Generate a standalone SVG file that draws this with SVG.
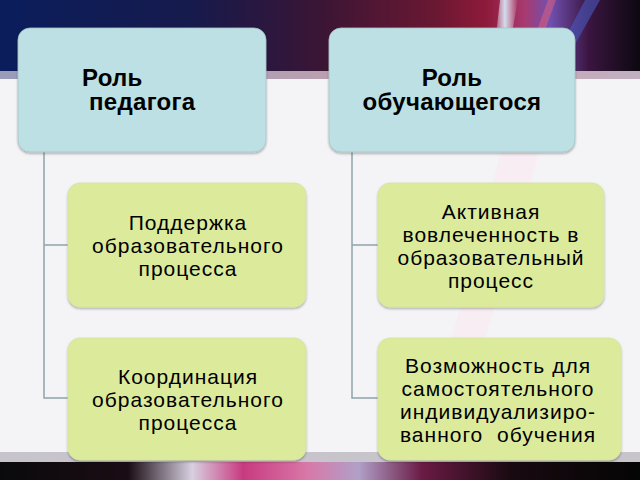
<svg xmlns="http://www.w3.org/2000/svg" width="640" height="480" viewBox="0 0 640 480">
  <defs>
    <linearGradient id="topBand" x1="0" y1="0" x2="1" y2="0">
      <stop offset="0" stop-color="#0a1d5c"/>
      <stop offset="0.3" stop-color="#161a4c"/>
      <stop offset="0.5" stop-color="#3a1535"/>
      <stop offset="0.68" stop-color="#6a1832"/>
      <stop offset="0.76" stop-color="#8e1a3a"/>
      <stop offset="0.82" stop-color="#a83a70"/>
      <stop offset="0.86" stop-color="#7050b0"/>
      <stop offset="0.92" stop-color="#3a1540"/>
      <stop offset="1" stop-color="#0c0810"/>
    </linearGradient>
    <linearGradient id="strip" x1="0" y1="0" x2="1" y2="0">
      <stop offset="0" stop-color="#9a9cb8"/>
      <stop offset="0.5" stop-color="#b8a0b0"/>
      <stop offset="0.8" stop-color="#c8a8b8"/>
      <stop offset="1" stop-color="#c0b0c0"/>
    </linearGradient>
    <linearGradient id="bottomBand" x1="0" y1="0" x2="1" y2="0">
      <stop offset="0" stop-color="#0a0a0c"/>
      <stop offset="0.2" stop-color="#1a0c14"/>
      <stop offset="0.3" stop-color="#d8d0e0"/>
      <stop offset="0.38" stop-color="#c83a80"/>
      <stop offset="0.48" stop-color="#d878a8"/>
      <stop offset="0.56" stop-color="#b0a0c8"/>
      <stop offset="0.66" stop-color="#6a1a44"/>
      <stop offset="0.8" stop-color="#180a10"/>
      <stop offset="1" stop-color="#050505"/>
    </linearGradient>
    <linearGradient id="streak" x1="0" y1="0" x2="1" y2="0">
      <stop offset="0" stop-color="#ffffff" stop-opacity="0"/>
      <stop offset="0.5" stop-color="#d8f0ff" stop-opacity="0.9"/>
      <stop offset="1" stop-color="#ffffff" stop-opacity="0"/>
    </linearGradient>
    <filter id="shadow" x="-10%" y="-10%" width="120%" height="130%">
      <feDropShadow dx="0" dy="1.5" stdDeviation="1.2" flood-color="#000" flood-opacity="0.3"/>
    </filter>
  </defs>
  <style>
    .top { fill: #bce0e3; stroke: #a8c4c8; stroke-width: 0.8; filter: url(#shadow); }
    .leaf { fill: #dcea9c; stroke: #d4e4a0; stroke-width: 0.8; filter: url(#shadow); }
    .head { font-family: "Liberation Sans", Arial, sans-serif; font-weight: bold; font-size: 24px; letter-spacing: 0.3px; fill: #000; }
    .body { font-family: "Liberation Sans", Arial, sans-serif; font-size: 21px; fill: #000; letter-spacing: 1px; text-anchor: middle; }
    .conn { fill: none; stroke: #8ea4ac; stroke-width: 1.5; }
  </style>

  <!-- background -->
  <rect x="0" y="0" width="640" height="480" fill="#f4f3f6"/>
  <rect x="0" y="0" width="640" height="71" fill="url(#topBand)"/>
  <polygon points="500,0 518,0 505,71 492,71" fill="url(#streak)"/>
  <polygon points="548,0 556,0 530,71 522,71" fill="#e8607a" opacity="0.5"/>
  <polygon points="585,0 600,0 560,71 548,71" fill="#4a58c0" opacity="0.6"/>
  <rect x="0" y="71" width="640" height="8" fill="url(#strip)"/>
  <polygon points="520,80 560,80 450,460 420,460" fill="#fbe8ee" opacity="0.5"/>
  <rect x="0" y="452" width="640" height="10" fill="#c8c4cc"/>
  <rect x="0" y="462" width="640" height="18" fill="url(#bottomBand)"/>

  <!-- connectors -->
  <g id="connectors">
    <path class="conn" d="M44,152 V398 H69 M44,245 H69"/>
    <path class="conn" d="M352,152 V398 H378 M352,245 H378"/>
  </g>

  <g id="role-teacher">
    <rect class="top" x="18" y="28" width="248" height="124" rx="12"/>
    <text class="head" x="82" y="86">Роль</text>
    <text class="head" x="89" y="110">педагога</text>
  </g>

  <g id="role-student">
    <rect class="top" x="329" y="28" width="246" height="124" rx="12"/>
    <text class="head" x="452" y="86" text-anchor="middle">Роль</text>
    <text class="head" x="452" y="110" text-anchor="middle">обучающегося</text>
  </g>

  <g id="support">
    <rect class="leaf" x="68" y="183" width="238" height="124" rx="12"/>
    <text class="body" x="188" y="230">Поддержка</text>
    <text class="body" x="188" y="253">образовательного</text>
    <text class="body" x="188" y="276">процесса</text>
  </g>

  <g id="coordination">
    <rect class="leaf" x="68" y="338" width="238" height="122" rx="12"/>
    <text class="body" x="188" y="384">Координация</text>
    <text class="body" x="188" y="407">образовательного</text>
    <text class="body" x="188" y="430">процесса</text>
  </g>

  <g id="active">
    <rect class="leaf" x="378" y="183" width="226" height="124" rx="12"/>
    <text class="body" x="491" y="219">Активная</text>
    <text class="body" x="491" y="242">вовлеченность в</text>
    <text class="body" x="491" y="265">образовательный</text>
    <text class="body" x="491" y="288">процесс</text>
  </g>

  <g id="individual">
    <rect class="leaf" x="378" y="338" width="243" height="122" rx="12"/>
    <text class="body" x="498" y="373">Возможность для</text>
    <text class="body" x="498" y="396">самостоятельного</text>
    <text class="body" x="498" y="419">индивидуализиро-</text>
    <text class="body" x="498" y="442" xml:space="preserve">ванного  обучения</text>
  </g>
</svg>
